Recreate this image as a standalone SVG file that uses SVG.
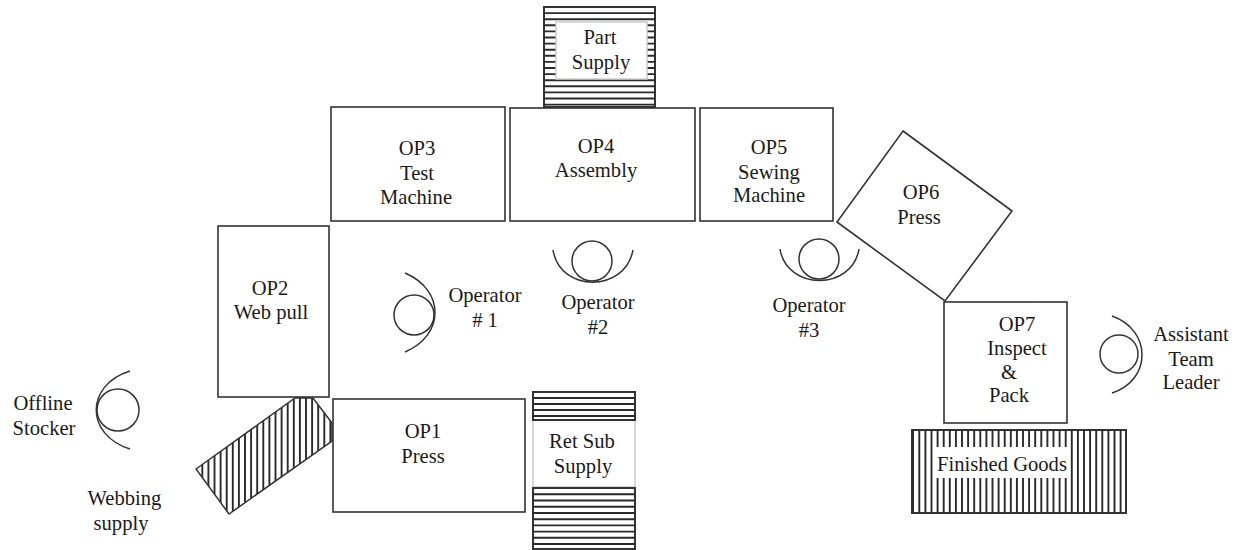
<svg xmlns="http://www.w3.org/2000/svg" width="1239" height="550" viewBox="0 0 1239 550">
<style>
text{font-family:"Liberation Serif","Times New Roman",serif;font-size:20.6px;fill:#1a1a1a;text-anchor:middle}
.b{fill:#fff;stroke:#333;stroke-width:1.6}
.h{stroke:#2a2a2a;stroke-width:1.9;fill:none}
.o{fill:none;stroke:#333;stroke-width:1.5}
.l{fill:#fff;stroke:#ccc;stroke-width:1.5}
</style>
<defs>
<clipPath id="webclip"><polygon points="196,469 295,398 313,398 332,423 332,441 229,514"/></clipPath>
</defs>
<rect width="1239" height="550" fill="#fff"/>
<g id="part-supply">
<rect class="h" x="544" y="7" width="111" height="100"/>
<path class="h" d="M544 13.100H655M544 19.200H655M544 25.300H655M544 31.400H655M544 37.500H655M544 43.600H655M544 49.700H655M544 55.800H655M544 61.900H655M544 68H655M544 74.100H655M544 80.200H655M544 86.300H655M544 92.400H655M544 98.500H655M544 104.600H655"/>
<rect class="l" x="556" y="22" width="91" height="57"/>
<text x="600" y="44">Part</text><text x="601" y="69">Supply</text>
</g>
<g id="op3"><rect class="b" x="331" y="107" width="174" height="114"/>
<text x="417" y="155">OP3</text><text x="417" y="180">Test</text><text x="416" y="204">Machine</text></g>
<g id="op4"><rect class="b" x="510" y="108" width="185" height="113"/>
<text x="596" y="153">OP4</text><text x="596" y="177">Assembly</text></g>
<g id="op5"><rect class="b" x="700" y="108" width="133" height="113"/>
<text x="769" y="154">OP5</text><text x="769" y="179">Sewing</text><text x="769" y="202">Machine</text></g>
<g id="op6"><polygon class="b" points="903,131 1012,211 945,301 837,222"/>
<text x="921" y="199">OP6</text><text x="919" y="224">Press</text></g>
<g id="op2"><rect class="b" x="218" y="226" width="111" height="171"/>
<text x="270" y="295">OP2</text><text x="271" y="319">Web pull</text></g>
<g id="webbing-supply">
<path class="h" clip-path="url(#webclip)" d="M202.300 398V514M208.400 398V514M214.500 398V514M220.600 398V514M226.700 398V514M232.800 398V514M238.900 398V514M245 398V514M251.100 398V514M257.200 398V514M263.300 398V514M269.400 398V514M275.500 398V514M281.600 398V514M287.700 398V514M293.800 398V514M299.900 398V514M306 398V514M312.100 398V514M318.200 398V514M324.300 398V514M330.400 398V514"/>
<polygon class="o" points="196,469 295,398 313,398 332,423 332,441 229,514"/>
<text x="124.500" y="505">Webbing</text><text x="121" y="530">supply</text></g>
<g id="op1"><rect class="b" x="333" y="399" width="192" height="113"/>
<text x="423" y="438">OP1</text><text x="423" y="463">Press</text></g>
<g id="ret-sub-supply">
<rect class="l" x="533" y="420" width="102" height="67"/>
<rect class="h" x="533" y="392" width="102" height="28"/>
<rect class="h" x="533" y="488" width="102" height="61"/>
<path class="h" d="M533 398H635M533 404H635M533 410H635M533 416H635M533 494.300H635M533 500.500H635M533 506.700H635M533 513H635M533 519.200H635M533 525.400H635M533 531.600H635M533 537.800H635M533 544H635"/>
<text x="582" y="448">Ret Sub</text><text x="583" y="473">Supply</text>
</g>
<g id="op7"><rect class="b" x="944" y="302" width="123" height="121"/>
<text x="1017" y="331">OP7</text><text x="1017" y="355">Inspect</text><text x="1009" y="379">&amp;</text><text x="1009" y="402">Pack</text></g>
<g id="finished-goods">
<rect class="h" x="912" y="430" width="214" height="83"/>
<path class="h" d="M913 430V513M919.300 430V513M925.400 430V513M931.500 430V513M937.600 430V513M943.700 430V513M949.800 430V513M955.900 430V513M962 430V513M968.100 430V513M974.200 430V513M980.300 430V513M986.400 430V513M992.500 430V513M998.600 430V513M1004.700 430V513M1010.800 430V513M1016.900 430V513M1023 430V513M1029.100 430V513M1035.200 430V513M1041.300 430V513M1047.400 430V513M1053.500 430V513M1059.600 430V513M1065.700 430V513M1071.800 430V513M1077.900 430V513M1084 430V513M1090.100 430V513M1096.200 430V513M1102.300 430V513M1108.400 430V513M1114.500 430V513M1120.600 430V513"/>
<rect x="936" y="447" width="132" height="31" fill="#fff"/>
<text x="1002" y="471">Finished Goods</text>
</g>
<g id="operator-1"><circle class="o" cx="414" cy="315" r="20"/><path class="o" d="M405,273C445,290 445,335 405,352"/>
<text x="485" y="302">Operator</text><text x="485" y="327"># 1</text></g>
<g id="operator-2"><circle class="o" cx="592" cy="261" r="20"/><path class="o" d="M553,250C560,293 625,293 633,250"/>
<text x="598" y="309">Operator</text><text x="598" y="334">#2</text></g>
<g id="operator-3"><circle class="o" cx="819" cy="259" r="20"/><path class="o" d="M780,249C787,291 852,291 859,249"/>
<text x="809" y="312">Operator</text><text x="809" y="337">#3</text></g>
<g id="assistant"><circle class="o" cx="1119" cy="354" r="19"/><path class="o" d="M1112,316C1152,330 1152,380 1112,393"/>
<text x="1191" y="341">Assistant</text><text x="1191" y="366">Team</text><text x="1191" y="389">Leader</text></g>
<g id="offline-stocker"><circle class="o" cx="118" cy="410" r="21"/><path class="o" d="M130,371C85,385 85,435 130,449"/>
<text x="43" y="410">Offline</text><text x="44" y="435">Stocker</text></g>
<g id="connectors"></g>
</svg>
